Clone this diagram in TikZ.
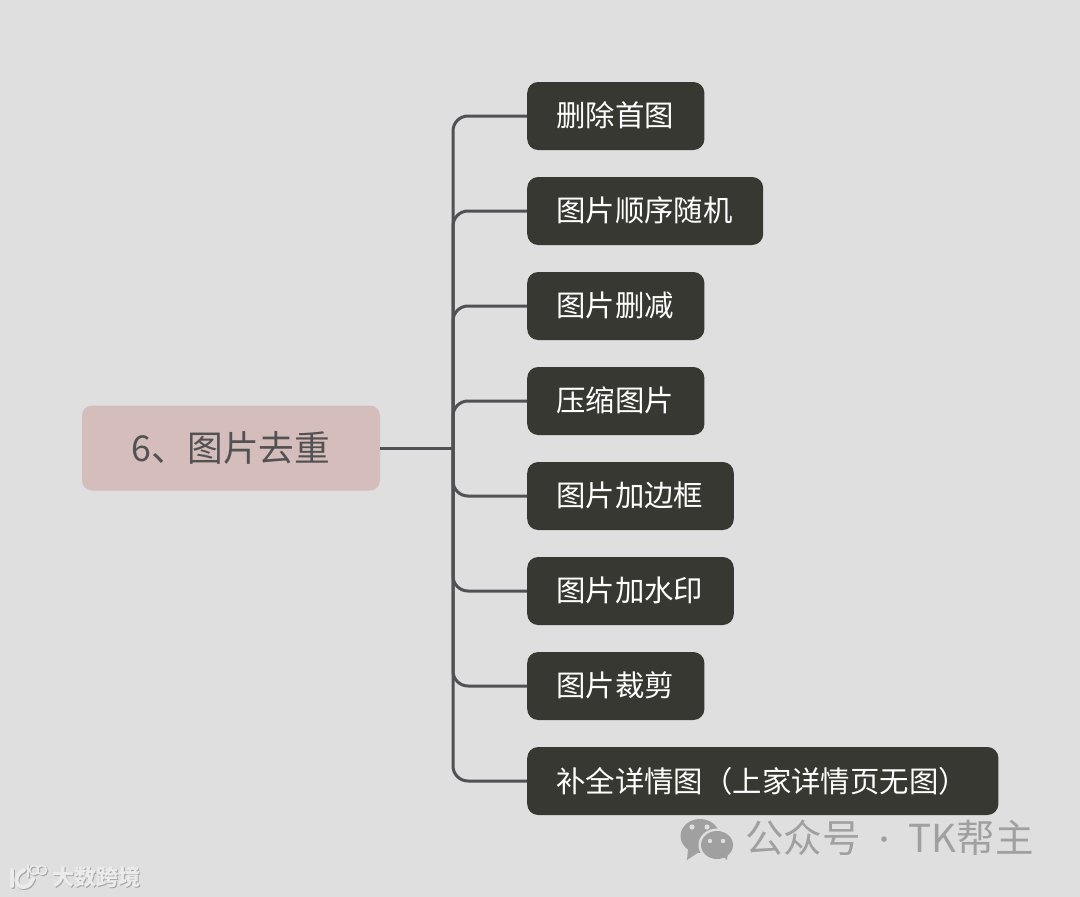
\documentclass[tikz,border=0pt]{standalone}
\usepackage{fontspec}
\setmainfont{Noto Sans CJK SC}
\usepackage{tikz}

\definecolor{bgcol}{HTML}{DFDFDF}
\definecolor{rootcol}{HTML}{D4BDBB}
\definecolor{itemcol}{HTML}{383832}
\definecolor{linecol}{HTML}{515155}
\definecolor{markcol}{HTML}{A0A0A0}

\tikzset{
  rootbox/.style={fill=rootcol, text=black!68, rounded corners=10pt, inner sep=0pt,
    minimum width=298pt, minimum height=85pt, font=\fontsize{35.7}{42}\selectfont},
  itembox/.style={fill=itemcol, text=white, rounded corners=11pt, anchor=west,
    inner xsep=29.8pt, inner ysep=0pt, minimum height=68pt, font=\fontsize{29.4}{35}\selectfont},
  branch/.style={draw=linecol, line width=3pt, rounded corners=15pt},
  marktext/.style={text=markcol, inner sep=0pt, font=\fontsize{38.5}{45}\selectfont},
  logotext/.style={inner sep=0pt, font=\bfseries\fontsize{22}{26}\selectfont},
  logoline/.style={draw=#1, line width=4pt, line cap=round}
}

\begin{document}
\begin{tikzpicture}[x=1pt, y=-1pt]

\fill[bgcol] (0,0) rectangle (1080,897);
\useasboundingbox (0,0) rectangle (1080,897);

\node[rootbox] (root) at (231,448) {\raisebox{2pt}{6、图片去重}};
\coordinate (trunk) at (453,448);

\foreach \i/\y/\txt in {1/116/删除首图, 2/211/图片顺序随机, 3/306/图片删减, 4/401/压缩图片,
    5/496/图片加边框, 6/591/图片加水印, 7/686/图片裁剪, 8/781/补全详情图（上家详情页无图）} {
  \node[itembox] (item\i) at (527,\y) {\raisebox{3pt}{\kern-0.8pt\txt\kern0.8pt}};
  \draw[branch] (trunk) |- (item\i.west);
}
\draw[branch] (root.east) -- (trunk);

% wechat mark, lower right
\fill[markcol] (700,836) ellipse (19.5pt and 17pt);
\fill[markcol] (688,849) -- (687,860) -- (699,852) -- cycle;
\fill[bgcol] (717,845) ellipse (18.5pt and 16.5pt);
\fill[markcol] (717,845) ellipse (16pt and 14pt);
\fill[markcol] (722,855) -- (727,860) -- (728,852) -- cycle;
\fill[bgcol] (692,827) circle (2.6pt);
\fill[bgcol] (707,827) circle (2.6pt);
\fill[bgcol] (710,841) circle (2.2pt);
\fill[bgcol] (723,841) circle (2.2pt);
\node[marktext, anchor=west] (mark) at (745,838)
  {公众号\hspace{11pt}\raisebox{3pt}{\fontsize{26}{30}\selectfont ·}\hspace{11pt}TK帮主};

% logo, lower left
\foreach \col/\dx in {black!35/1, white!92!black/0} {
  \begin{scope}[shift={(\dx,\dx)}]
    \draw[logoline=\col] (12,870) -- (12,886);
    \draw[logoline=\col] (24,870) .. controls (13,875) and (15,887) .. (23,887) .. controls (28,887) and (31,884) .. (33,879);
    \draw[logoline=\col, line width=1.6pt] (28,865) -- (28,877);
    \draw[logoline=\col, line width=1.6pt] (34,870) circle (4.5pt);
    \draw[logoline=\col, line width=1.6pt] (42,870) circle (4.5pt);
  \end{scope}
}
\node[logotext, text=black!35, anchor=west] (logoshade) at (53,878) {大数跨境};
\node[logotext, text=white!92!black, anchor=west] (logo) at (52,877) {大数跨境};

\end{tikzpicture}
\end{document}
